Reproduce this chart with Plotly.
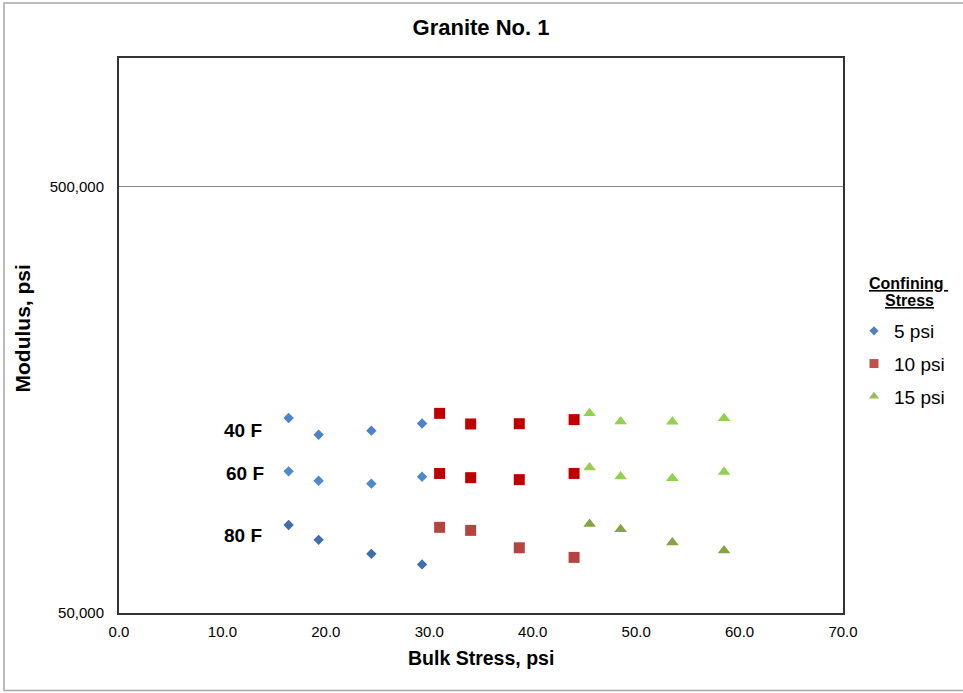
import plotly.graph_objects as go

# ---- data ----
stress_labels = ["5 psi", "10 psi", "15 psi"]
temps = ["40 F", "60 F", "80 F"]

bulk_5 = [16.4, 19.3, 24.4, 29.3]
bulk_10 = [31.0, 34.0, 38.7, 44.0]
bulk_15 = [45.5, 48.5, 53.5, 58.5]

mod_40_5 = [143300, 130900, 133800, 139100]
mod_40_10 = [146900, 138700, 138900, 142000]
mod_40_15 = [147000, 140500, 140300, 143000]

mod_60_5 = [107400, 102100, 100500, 104300]
mod_60_10 = [106200, 103800, 102700, 106200]
mod_60_15 = [109700, 104400, 103500, 107100]

mod_80_5 = [80400, 74200, 68800, 65000]
mod_80_10 = [79400, 78100, 71100, 67500]
mod_80_15 = [80800, 78600, 73200, 70100]

y_tickvals = [50000, 500000]
y_ticktext = ["50,000", "500,000"]
x_tickvals = [0, 10, 20, 30, 40, 50, 60, 70]

FONT = "Liberation Sans, Arial, sans-serif"

colors = {
    "40 F": ["#4A84C6", "#C00000", "#92D050"],
    "60 F": ["#4F88CC", "#C00000", "#92D050"],
    "80 F": ["#3F6EAA", "#B5433F", "#86A345"],
}
legend_colors = ["#4F81BD", "#C0504D", "#9BBB59"]
symbols = ["diamond", "square", "triangle-up"]
sizes = [8, 11, 11]

series = {
    "40 F": [mod_40_5, mod_40_10, mod_40_15],
    "60 F": [mod_60_5, mod_60_10, mod_60_15],
    "80 F": [mod_80_5, mod_80_10, mod_80_15],
}
bulks = [bulk_5, bulk_10, bulk_15]

fig = go.Figure()
for t in temps:
    for i in range(3):
        fig.add_trace(go.Scatter(
            x=bulks[i], y=series[t][i], mode="markers",
            marker=dict(symbol=symbols[i], size=sizes[i], color=colors[t][i]),
            name=f"{stress_labels[i]} {t}", showlegend=False,
        ))

leg_sizes = [7, 9, 9]
for i in range(3):
    fig.add_trace(go.Scatter(
        x=[None], y=[None], mode="markers",
        marker=dict(symbol=symbols[i], size=leg_sizes[i], color=legend_colors[i]),
        name=stress_labels[i], legendgroup=stress_labels[i], showlegend=True,
    ))

fig.update_layout(
    width=963, height=693,
    margin=dict(l=119, r=120, t=58, b=80),
    paper_bgcolor="white", plot_bgcolor="white",
    font=dict(family=FONT, color="black"),
    title=dict(text="<b>Granite No. 1</b>", x=0.5, xref="paper", xanchor="center",
               y=1 - 27 / 693, yref="container", yanchor="middle",
               font=dict(size=22, family=FONT, color="black")),
    showlegend=True,
    legend=dict(
        x=(854 - 119) / 724, xanchor="left", y=(613 - 312) / 555, yanchor="top",
        font=dict(size=19, family=FONT, color="black"),
        tracegroupgap=5, itemwidth=30, bgcolor="rgba(0,0,0,0)",
    ),
    shapes=[dict(type="rect", xref="paper", yref="paper",
                 x0=(4 - 119) / 724, x1=(968 - 119) / 724,
                 y0=(613 - 690.5) / 555, y1=(613 - 3) / 555,
                 line=dict(color="#A6A6A6", width=1.5), layer="below")],
)

fig.update_xaxes(
    range=[0, 70], tickvals=x_tickvals, tickformat=".1f",
    showgrid=False, zeroline=False,
    showline=True, mirror=True, linecolor="#333333", linewidth=2,
    ticks="", ticklabelstandoff=4,
    tickfont=dict(size=15, family=FONT, color="black"),
)
fig.update_yaxes(
    type="log", range=[4.69897, 6.0], tickvals=y_tickvals, ticktext=y_ticktext,
    showgrid=True, gridcolor="#868686", gridwidth=1, zeroline=False,
    showline=True, mirror=True, linecolor="#333333", linewidth=2,
    ticks="", ticklabelstandoff=10,
    tickfont=dict(size=15, family=FONT, color="black"),
)

annos = [
    dict(text="<b>Bulk Stress, psi</b>", xref="paper", yref="paper", x=0.5, y=0,
         xanchor="center", yanchor="middle", yshift=-45, showarrow=False,
         font=dict(size=19.5, family=FONT, color="black")),
    dict(text="<b>Modulus, psi</b>", xref="paper", yref="paper", x=0, y=0.5,
         xanchor="center", yanchor="middle", xshift=-97, yshift=7, textangle=-90,
         showarrow=False, font=dict(size=21, family=FONT, color="black")),
    dict(text="<b><u>Confining </u></b>", xref="paper", yref="paper",
         x=(908 - 119) / 724, y=(613 - 283) / 555, xanchor="center", yanchor="middle",
         showarrow=False, font=dict(size=16, family=FONT, color="black")),
    dict(text="<b><u>Stress</u></b>", xref="paper", yref="paper",
         x=(909 - 119) / 724, y=(613 - 300) / 555, xanchor="center", yanchor="middle",
         showarrow=False, font=dict(size=16, family=FONT, color="black")),
]
temp_label_pos = {"40 F": (242.7, 430), "60 F": (245, 473), "80 F": (242.7, 535)}
for t in temps:
    px, py = temp_label_pos[t]
    annos.append(dict(text=f"<b>{t}</b>", xref="paper", yref="paper",
                      x=(px - 119) / 724, y=(613 - py) / 555,
                      xanchor="center", yanchor="middle", showarrow=False,
                      font=dict(size=19, family=FONT, color="black")))
fig.update_layout(annotations=annos)

fig.write_html("out.html", config={"displayModeBar": False},
               post_script="document.body.style.margin='0px';")
